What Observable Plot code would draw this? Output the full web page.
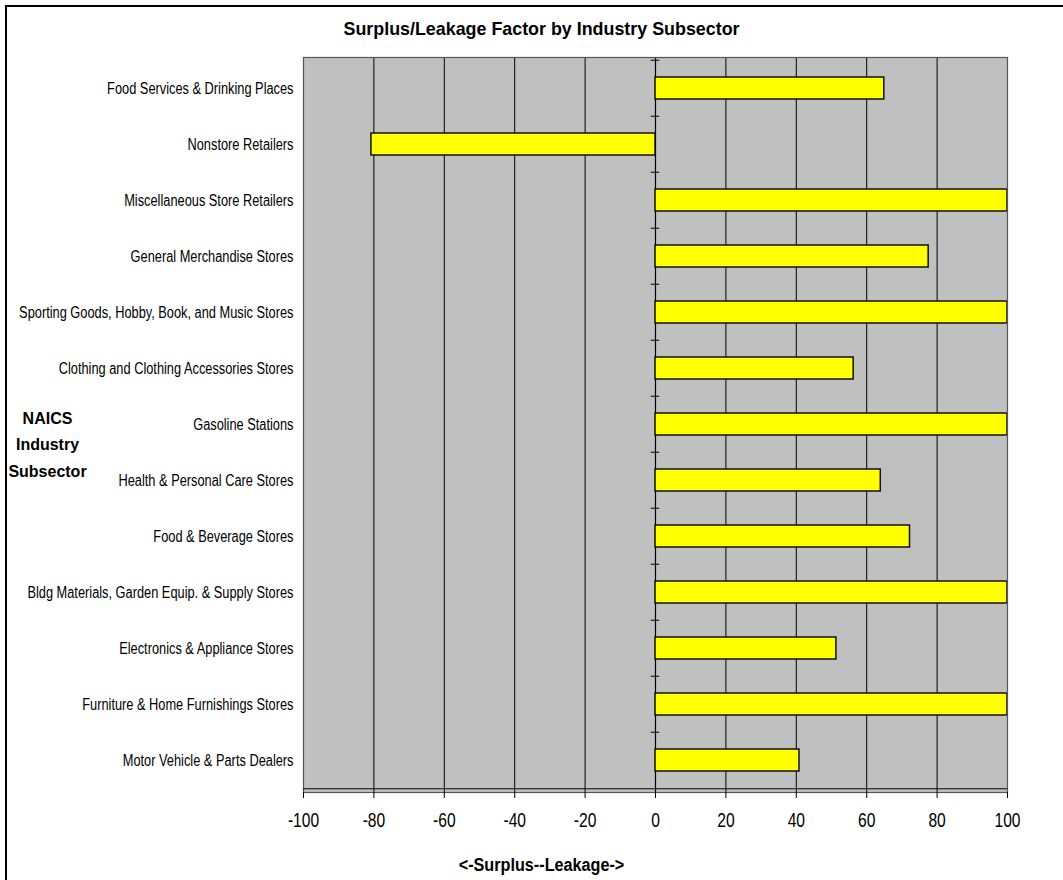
<!DOCTYPE html>
<html>
<head>
<meta charset="utf-8">
<script src="https://cdn.jsdelivr.net/npm/d3@7"></script>
<script src="https://cdn.jsdelivr.net/npm/@observablehq/plot@0.6"></script>
<style>
  html, body { margin: 0; padding: 0; background: #fff; overflow: hidden; }
  #wrap { position: relative; width: 1063px; height: 880px; }
  #border { position: absolute; left: 5px; top: 5px; width: 2000px; height: 2000px;
            border-left: 2px solid #000; border-top: 2px solid #000; pointer-events: none; }
</style>
</head>
<body>
<div id="wrap"><div id="border"></div></div>
<script>
const categories = [
  "Food Services & Drinking Places",
  "Nonstore Retailers",
  "Miscellaneous Store Retailers",
  "General Merchandise Stores",
  "Sporting Goods, Hobby, Book, and Music Stores",
  "Clothing and Clothing Accessories Stores",
  "Gasoline Stations",
  "Health & Personal Care Stores",
  "Food & Beverage Stores",
  "Bldg Materials, Garden Equip. & Supply Stores",
  "Electronics & Appliance Stores",
  "Furniture & Home Furnishings Stores",
  "Motor Vehicle & Parts Dealers"
];
const values = [65.0, -80.7, 100, 77.6, 100, 56.3, 100, 64.0, 72.3, 100, 51.4, 100, 40.9];
const xTicks = [-100, -80, -60, -40, -20, 0, 20, 40, 60, 80, 100];
const title = "Surplus/Leakage Factor by Industry Subsector";
const xLabel = "<-Surplus--Leakage->";
const yLabel = "NAICS\nIndustry\nSubsector";

const data = categories.map((c, i) => ({category: c, value: values[i]}));

const W = 1063, H = 880;
const mL = 303, mR = 56, mT = 57, mB = 88;
const halfStep = (H - mT - mB) / categories.length / 2;
const font = "'Liberation Sans', Arial, sans-serif";

const chart = Plot.plot({
  width: W, height: H,
  marginLeft: mL, marginRight: mR, marginTop: mT, marginBottom: mB,
  style: {fontFamily: font, fontSize: "16px", color: "#000", background: "transparent"},
  x: {domain: [-100, 100], ticks: xTicks},
  y: {domain: categories, paddingInner: 0.6, paddingOuter: 0.3},
  marks: [
    Plot.frame({fill: "#c0c0c0", stroke: null}),
    Plot.gridX(xTicks, {stroke: "#000", strokeOpacity: 1, strokeWidth: 1}),
    Plot.ruleX([0], {stroke: "#000", strokeWidth: 1.2}),
    Plot.ruleY(categories, {y: d => d, x1: -1.2, x2: 1.2, dy: -halfStep, stroke: "#000"}),
    Plot.barX(data, {x: "value", y: "category", fill: "#ffff00", stroke: "#111", strokeWidth: 1.5}),
    Plot.frame({stroke: "#555", fill: "none", strokeWidth: 1.2}),
    Plot.ruleY([categories[categories.length - 1]], {dy: halfStep, x1: -100, x2: 100, stroke: "#000", strokeWidth: 1.2}),
    Plot.axisX({ticks: xTicks, tickSize: 6, tickPadding: 14, fontSize: 20, label: null, tickFormat: d => String(d)}),
    Plot.axisY({tickSize: 0, tickPadding: 10, label: null, fontSize: 16}),
    Plot.text([title], {frameAnchor: "top", lineAnchor: "middle", dy: -29, dx: -114, fontWeight: "bold", fontSize: 19}),
    Plot.text([xLabel], {frameAnchor: "bottom", lineAnchor: "middle", dy: 73, dx: -114, fontWeight: "bold", fontSize: 18}),
    Plot.text([yLabel], {frameAnchor: "left", lineAnchor: "middle", dx: -256, dy: 17, fontWeight: "bold", fontSize: 16, lineHeight: 1.65, textAnchor: "middle"})
  ]
});
document.getElementById("wrap").prepend(chart);

// Condense text horizontally (via textLength) to imitate the narrow typeface of the original.
function condense(t, sx) {
  const len = t.getComputedTextLength();
  if (len > 0) {
    t.setAttribute("textLength", (len * sx).toFixed(2));
    t.setAttribute("lengthAdjust", "spacingAndGlyphs");
  }
}
chart.querySelectorAll("g[aria-label='y-axis tick label'] text").forEach(t => condense(t, 0.8));
chart.querySelectorAll("g[aria-label='x-axis tick label'] text").forEach(t => condense(t, 0.78));
chart.querySelectorAll("text").forEach(t => {
  if (t.textContent === title) condense(t, 0.94);
  else if (t.textContent === xLabel) condense(t, 0.9);
});
</script>
</body>
</html>
